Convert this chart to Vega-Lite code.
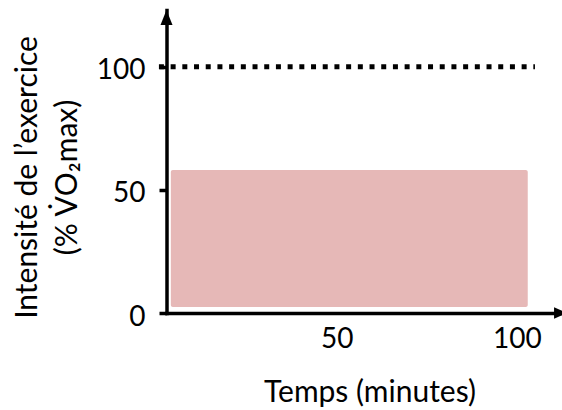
{
  "$schema": "https://vega.github.io/schema/vega-lite/v6.json",
  "width": 395.5,
  "height": 303,
  "autosize": {"type": "none"},
  "padding": {"left": 166.5, "top": 10, "right": 0, "bottom": 97},
  "background": "white",
  "config": {
    "view": {"stroke": null},
    "font": "Lato",
    "axis": {"grid": false, "labelColor": "black", "titleColor": "black", "labelFont": "Lato", "titleFont": "Lato", "labelFontSize": 28, "titleFontSize": 30, "titleFontWeight": "normal", "domainColor": "black", "domainWidth": 3.5, "domainCap": "square", "labelOverlap": false, "labelFlush": false, "zindex": 1}
  },
  "layer": [
    {
      "data": {"values": [{"debut": 4, "fin": 103, "bas": 2.4, "haut": 58}]},
      "mark": {"type": "rect", "color": "#E6B8B7", "cornerRadius": 2},
      "encoding": {
        "x": {"field": "debut", "type": "quantitative", "scale": {"domain": [2.8, 112.5], "nice": false, "zero": false},
          "axis": {"values": [50, 100], "ticks": false, "tickSize": 0, "labelPadding": 34, "labelBaseline": "alphabetic", "title": "Temps (minutes)", "titleX": 203, "titleY": 88.7, "titleBaseline": "alphabetic", "titleAlign": "center", "titleAngle": 0}},
        "x2": {"field": "fin"},
        "y": {"field": "bas", "type": "quantitative", "scale": {"domain": [0, 123], "nice": false},
          "axis": {"values": [0, 50, 100], "tickSize": 7.5, "tickWidth": 3.5, "tickColor": "black", "labelPadding": 14, "labelBaseline": "alphabetic", "labelOffset": 12, "title": ["Intensité de l’exercice", "(% V̇O₂max)"], "titleLineHeight": 40, "titleX": -124.5, "titleY": 167, "titleAngle": -90, "titleBaseline": "bottom", "titleAlign": "center"}},
        "y2": {"field": "haut"}
      }
    },
    {
      "data": {"values": [{"debut": 0.7, "fin": 105, "niveau": 100}]},
      "mark": {"type": "rule", "strokeDash": [5, 6.7], "strokeWidth": 5, "color": "black"},
      "encoding": {
        "x": {"field": "debut", "type": "quantitative"},
        "x2": {"field": "fin"},
        "y": {"field": "niveau", "type": "quantitative"}
      }
    },
    {
      "data": {"values": [{"px": 2.8, "py": 123}]},
      "mark": {"type": "point", "shape": "M0,0L0.4,1L-0.4,1Z", "size": 900, "filled": true, "color": "black", "opacity": 1, "strokeWidth": 0},
      "encoding": {
        "x": {"field": "px", "type": "quantitative"},
        "y": {"field": "py", "type": "quantitative"}
      }
    },
    {
      "data": {"values": [{"px": 113.9, "py": 0}]},
      "mark": {"type": "point", "shape": "M0,0L-1,-0.45L-1,0.45Z", "size": 676, "filled": true, "color": "black", "opacity": 1, "strokeWidth": 0},
      "encoding": {
        "x": {"field": "px", "type": "quantitative"},
        "y": {"field": "py", "type": "quantitative"}
      }
    }
  ]
}
